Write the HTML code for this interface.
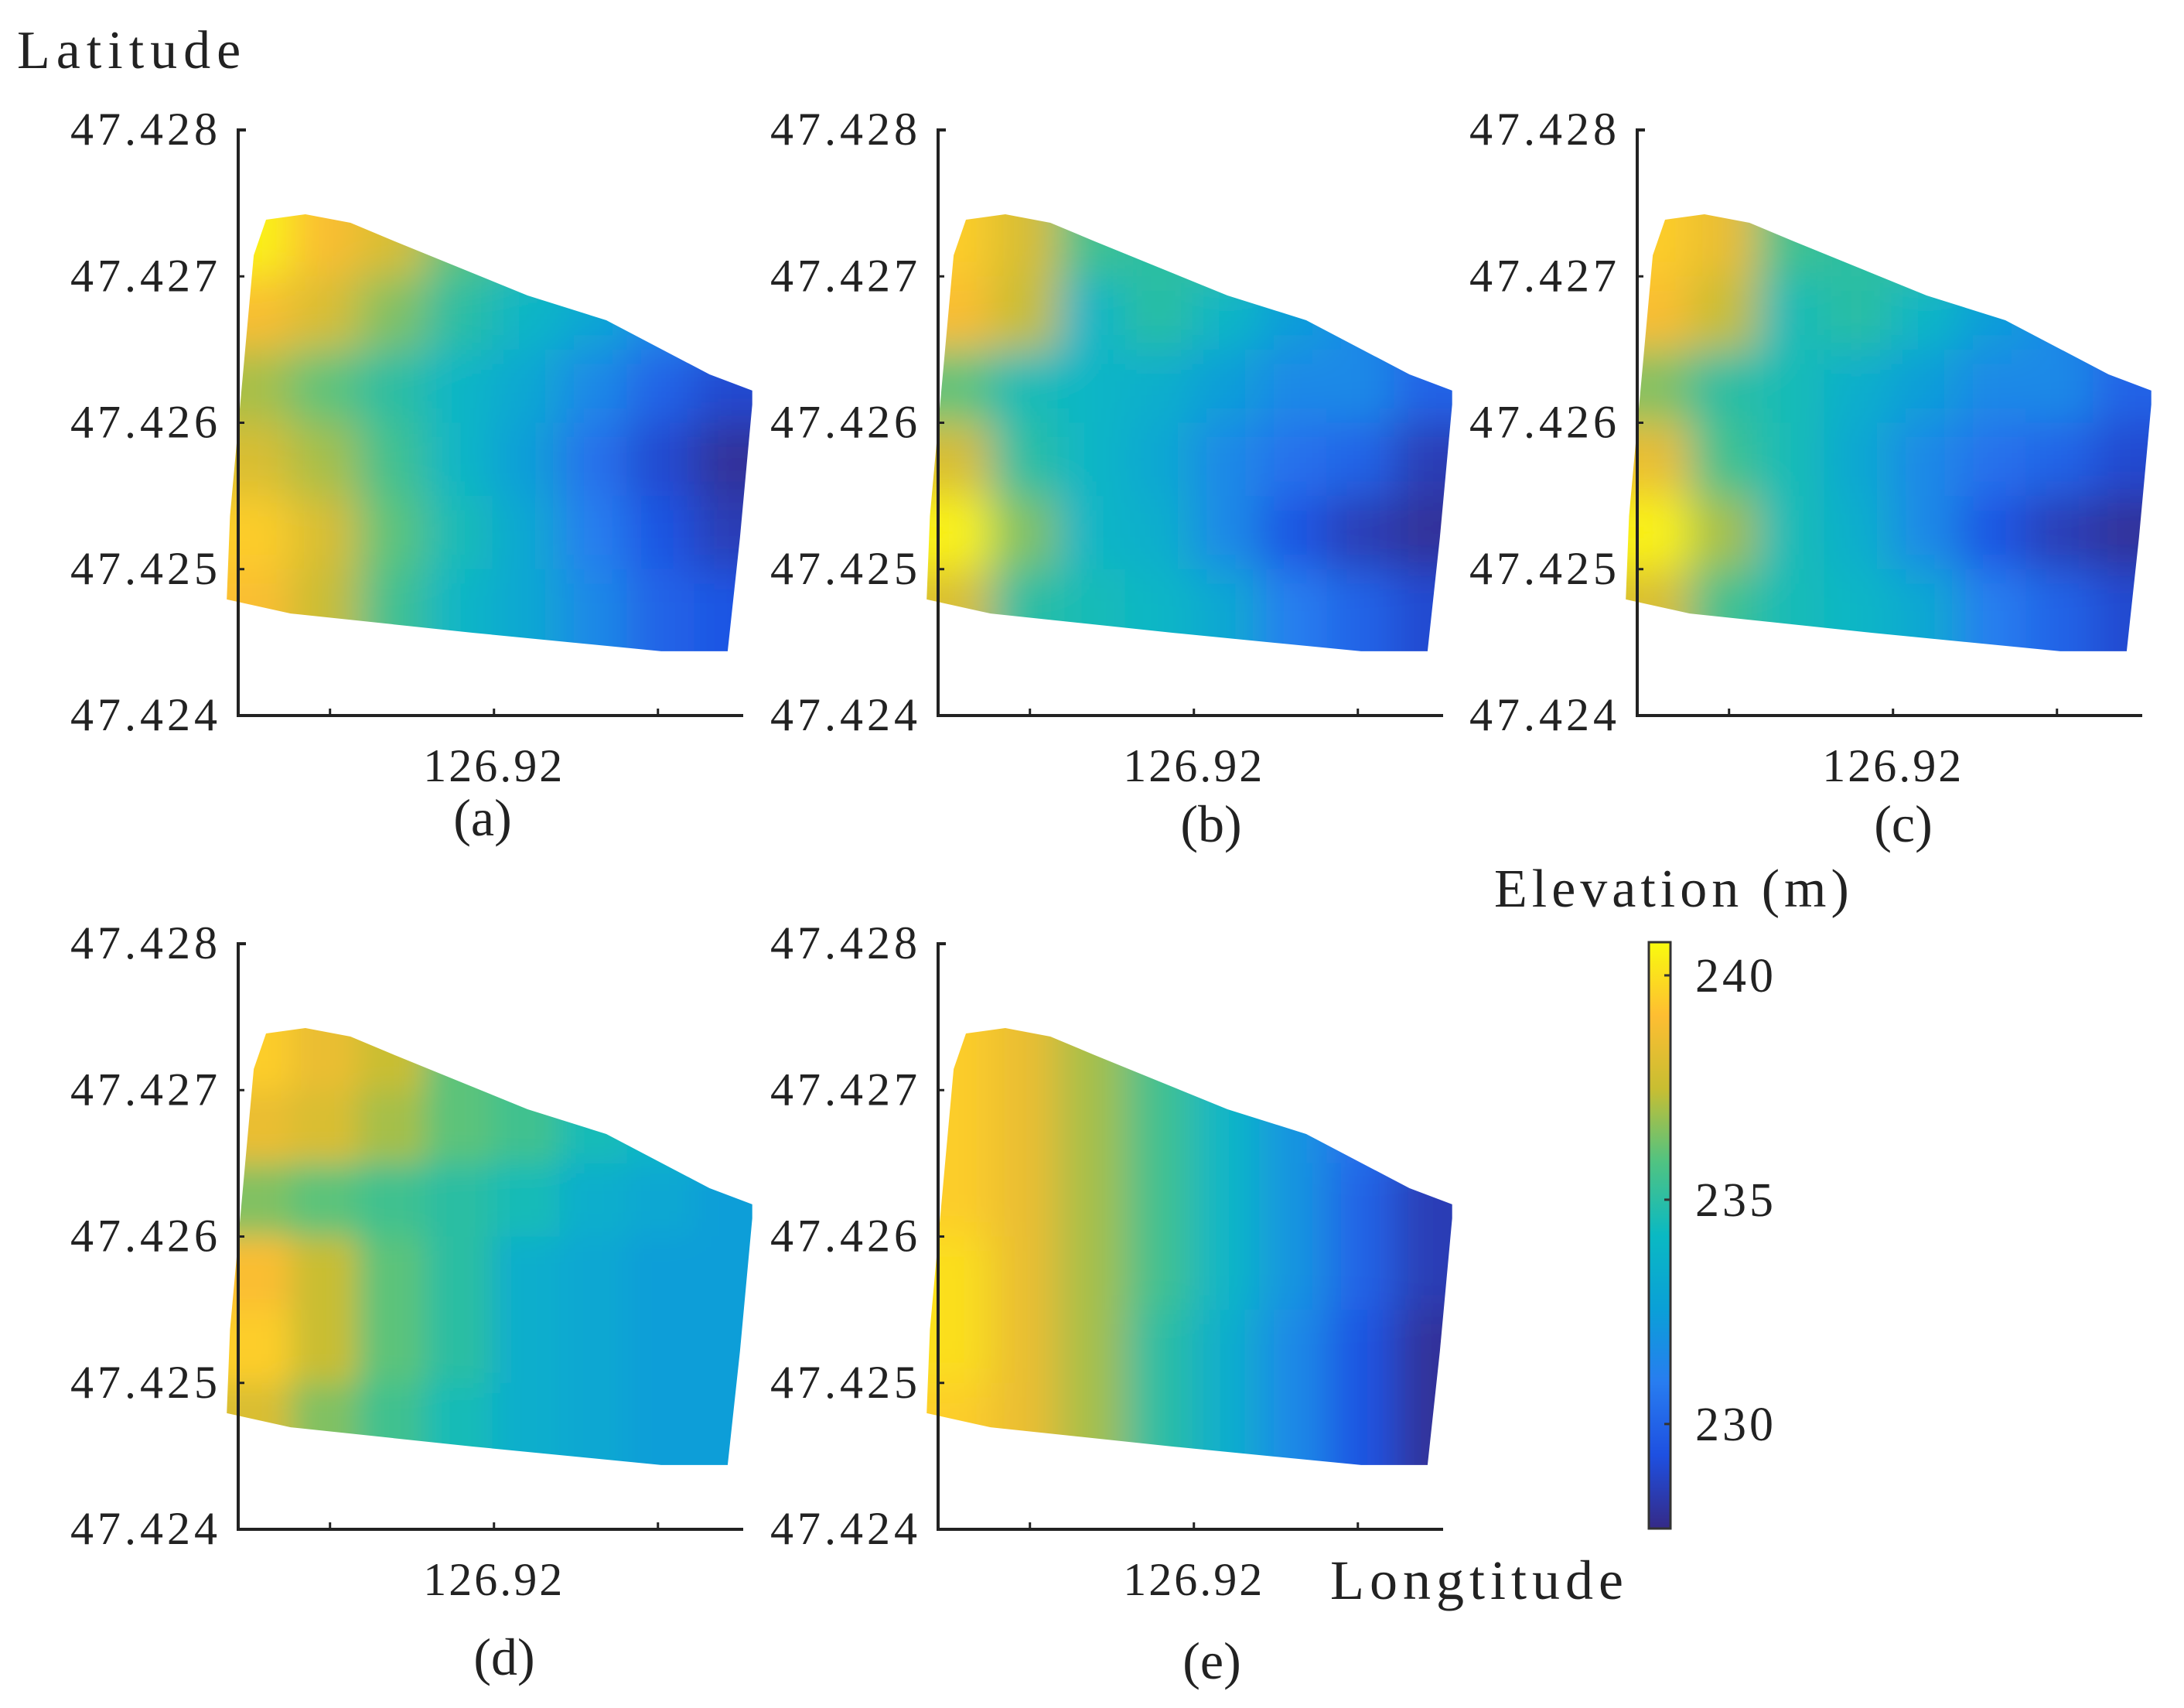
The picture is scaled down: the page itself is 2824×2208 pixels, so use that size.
<!DOCTYPE html>
<html><head><meta charset="utf-8">
<style>
html,body{margin:0;padding:0;background:#fff;}
svg{display:block;}
text{font-family:"Liberation Serif",serif;fill:#222;}
</style></head>
<body>
<svg id="fig" width="2824" height="2208" viewBox="0 0 2824 2208" xmlns="http://www.w3.org/2000/svg">
<defs>
<filter id="blur" x="-20%" y="-20%" width="140%" height="140%"><feGaussianBlur stdDeviation="28"/></filter>
<filter id="blurd" x="-20%" y="-20%" width="140%" height="140%"><feGaussianBlur stdDeviation="20"/></filter>
<linearGradient id="cbgrad" x1="0" y1="1" x2="0" y2="0"></linearGradient>
</defs>
<g id="root"></g>
</svg>
<script>
// ---- data ----
const panelLabels = ['(a)','(b)','(c)','(d)','(e)'];
const latTicks = [47.424,47.425,47.426,47.427,47.428];
const latTickLabels = ['47.424','47.425','47.426','47.427','47.428'];
const lonTicks = [126.918,126.920,126.922];
const lonTickLabels = ['','126.92',''];
const cbTicks = [230,235,240];
const cbTickLabels = ['230','235','240'];
// grid of elevation cells: 8 lon columns x 6 lat rows (top row first)
const gridLon0 = 126.9167, gridLonStep = 0.00082;
const gridLat0 = 47.4275, gridLatStep = 0.0005;
const elevA = [
 [240.5,239,238,236,235,234,233,232],
 [239,238,236.5,235,234,233,231.5,230.5],
 [237,236,235,234,233,231.5,230,229],
 [238,237,235.5,234,232.5,230.5,229,228],
 [239.5,238,236,234.5,233,231,229.5,228.5],
 [239,237.5,235.5,234,233,231.5,230,229.5]];
const elevB = [
 [239.5,238,235.5,235,235.5,233,232.5,231],
 [239,237.5,234,235,234,232.5,231.5,230],
 [236,234.5,234,233.5,232.5,231.5,231.5,230],
 [238,235,234,233,231.5,230.5,230,228.5],
 [240.5,236.5,234,233.5,231.5,229.5,228.5,228],
 [238,235,234.5,234,233,231,230,229]];
const elevC = [
 [239.5,238.5,235.5,235,235.5,233.5,232.5,231],
 [239,237.5,234.5,235,234,232.5,231.5,230],
 [236.5,235,234.5,233.5,232.5,231.5,231.5,230],
 [238.5,235.5,234.5,233,231.5,230.5,230,229],
 [240.5,237,234.5,233.5,231.5,229.5,228.5,228],
 [238,235.5,234.5,234,233,231,230,229]];
const elevD = [
 [239.5,238.5,237.5,236,235.5,235,234.5,234],
 [238.5,238,237,236,235.5,234.5,234,233.5],
 [236.5,236,235.5,235,234.5,233.5,233,232.5],
 [239,237.5,236,235,233.5,233,232.5,232.5],
 [239.5,237.5,236,235,233.5,233,232.5,232.5],
 [238,236.5,235.5,234.5,233.5,233,232.5,232.5]];
const elevE = [
 [239.5,238.5,237,235.5,234,232.5,230.5,229],
 [239.5,238.5,237,235.5,234,232,230.5,229],
 [239.5,238.5,237,235.5,234,232,230,228.5],
 [240,238.5,237,235.5,234,232,230,228.5],
 [240,238.5,237,235,233.5,231.5,229.5,228],
 [239.5,238.5,237,235,233.5,231.5,229.5,228]];
const panelElev = [elevA,elevB,elevC,elevD,elevE];
// field boundary (lon, lat)
const fieldLon = [126.91722,126.91770,126.91825,126.91879,126.92041,126.92137,126.92263,126.92315,126.92315,126.92300,126.92285,126.92204,126.91975,126.91752,126.91674,126.91678,126.91692,126.91707];
const fieldLat = [47.427387,47.427424,47.427366,47.427239,47.426869,47.426700,47.426330,47.426220,47.426124,47.425215,47.424439,47.424439,47.424565,47.424697,47.424793,47.425363,47.426220,47.427144];
const cbMin = 227.67, cbMax = 240.74;

// ---- layout ----
const panelX = [308,1213,2117,308,1213];
const panelY = [168,168,168,1220,1220];
const PW = 653, PH = 757;
const lonMin = 126.91688, lonMax = 126.92304;
const latMin = 47.424, latMax = 47.428;
const NS = 'http://www.w3.org/2000/svg';
const root = document.getElementById('root');
function mk(tag, attrs, parent){const e=document.createElementNS(NS,tag);for(const k in attrs)e.setAttribute(k,attrs[k]);(parent||root).appendChild(e);return e;}
function xScale(p,lon){return panelX[p]+(lon-lonMin)/(lonMax-lonMin)*PW;}
function yScale(p,lat){return panelY[p]+PH-(lat-latMin)/(latMax-latMin)*PH;}
const stops=[[0,[53,42,135]],[0.125,[30,80,225]],[0.25,[40,125,240]],[0.375,[10,160,215]],[0.5,[10,185,195]],[0.625,[80,195,130]],[0.75,[200,190,50]],[0.875,[254,190,50]],[1,[249,251,14]]];
function color(v){let t=(v-cbMin)/(cbMax-cbMin);t=Math.max(0,Math.min(1,t));
 for(let i=1;i<stops.length;i++){if(t<=stops[i][0]){const a=stops[i-1],b=stops[i];const f=(t-a[0])/(b[0]-a[0]);
 const c=a[1].map((x,j)=>Math.round(x+(b[1][j]-x)*f));return 'rgb('+c.join(',')+')';}}return 'rgb(249,251,14)';}

const defs=document.querySelector('defs');
for(let p=0;p<5;p++){
 const g=mk('g',{});
 
 
 const pts=fieldLon.map((lo,i)=>xScale(p,lo).toFixed(1)+','+yScale(p,fieldLat[i]).toFixed(1)).join(' ');
 const cp=mk('clipPath',{id:'clip'+p},defs);
 mk('polygon',{points:pts},cp);
 const hm=mk('g',{'clip-path':'url(#clip'+p+')'},g);
 
 
 const bg=mk('g',{filter:p===3?'url(#blurd)':'url(#blur)'},hm);
 const E=panelElev[p];
 for(let r=0;r<E.length;r++)for(let c=0;c<E[r].length;c++){
  let x0=xScale(p,gridLon0+c*gridLonStep),x1=xScale(p,gridLon0+(c+1)*gridLonStep);
  let y0=yScale(p,gridLat0-r*gridLatStep),y1=yScale(p,gridLat0-(r+1)*gridLatStep);
  if(c===0)x0-=120; if(c===E[r].length-1)x1+=120; if(r===0)y0-=120; if(r===E.length-1)y1+=120;
  const rc=mk('rect',{x:x0,y:y0,width:x1-x0+1,height:y1-y0+1,fill:color(E[r][c])},bg);
  
  
 }
 // axes
 const ax=mk('g',{stroke:'#222','stroke-width':4,fill:'none'},g);
 
 
 mk('path',{d:`M${panelX[p]+10},${panelY[p]} H${panelX[p]} V${panelY[p]+PH} H${panelX[p]+PW}`},ax);
 latTicks.forEach((lt,i)=>{const y=yScale(p,lt);
  if(i>0&&i<latTicks.length-1)mk('line',{x1:panelX[p],x2:panelX[p]+8,y1:y,y2:y,'stroke-width':3},ax);
  const t=mk('text',{x:panelX[p]-22,y:y+19,'text-anchor':'end','font-size':60,'letter-spacing':5},g);
  
  
  t.textContent=latTickLabels[i];});
 lonTicks.forEach((ln,i)=>{const x=xScale(p,ln);
  mk('line',{x1:x,x2:x,y1:panelY[p]+PH,y2:panelY[p]+PH-9,'stroke-width':3},ax);
  if(lonTickLabels[i]){const t=mk('text',{x:x,y:panelY[p]+PH+85,'text-anchor':'middle','font-size':60,'letter-spacing':3},g);
  
  
  t.textContent=lonTickLabels[i];}});
 const lblX=[624,1566,2461,652,1567][p], lblY=[1080,1088,1088,2165,2170][p];
 const pl=mk('text',{x:lblX,y:lblY,'text-anchor':'middle','font-size':68},g);
 
 
 pl.textContent=panelLabels[p];
}
// titles
let t=mk('text',{x:22,y:88,'font-size':70,'letter-spacing':8});


t.textContent='Latitude';
t=mk('text',{x:1720,y:2067,'font-size':72,'letter-spacing':7});


t.textContent='Longtitude';
t=mk('text',{x:1932,y:1172,'font-size':70,'letter-spacing':6});


t.textContent='Elevation (m)';
// colorbar
const grad=document.getElementById('cbgrad');
stops.forEach(s=>{mk('stop',{offset:s[0],'stop-color':'rgb('+s[1].join(',')+')'},grad);});
const cbX=2132,cbTop=1218,cbBot=1976,cbW=28;
function cbY(v){return cbBot-(v-cbMin)/(cbMax-cbMin)*(cbBot-cbTop);}
const cb=mk('g',{});


mk('rect',{x:cbX,y:cbTop,width:cbW,height:cbBot-cbTop,fill:'url(#cbgrad)',stroke:'#333','stroke-width':3},cb);
cbTicks.forEach((v,i)=>{const y=cbY(v);
 mk('line',{x1:cbX+cbW-8,x2:cbX+cbW,y1:y,y2:y,stroke:'#333','stroke-width':3},cb);
 const l=mk('text',{x:2192,y:y+21,'font-size':62,'letter-spacing':4},cb);
 
 
 l.textContent=cbTickLabels[i];});
</script>
</body></html>
